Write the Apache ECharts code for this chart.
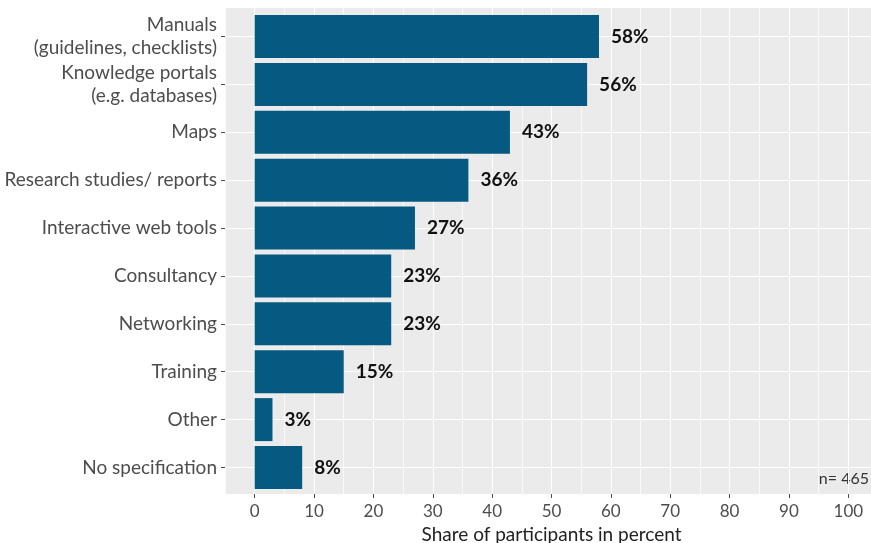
<!DOCTYPE html>
<html>
<head>
<meta charset="utf-8">
<script src="https://cdn.jsdelivr.net/npm/echarts@6/dist/echarts.min.js"></script>
<style>
  html, body { margin: 0; padding: 0; background: #fff; }
  #chart { width: 871px; height: 543px; }
</style>
</head>
<body>
<div id="chart"></div>
<script>
const categories = [
    'Manuals\n(guidelines, checklists)',
    'Knowledge portals\n(e.g. databases)',
    'Maps',
    'Research studies/ reports',
    'Interactive web tools',
    'Consultancy',
    'Networking',
    'Training',
    'Other',
    'No specification'
];
const shares = [58, 56, 43, 36, 27, 23, 23, 15, 3, 8];
const xTicks = [0, 10, 20, 30, 40, 50, 60, 70, 80, 90, 100];
const sampleNote = 'n= 465';

const chart = echarts.init(document.getElementById('chart'));
const font = 'Lato, "Open Sans", sans-serif';

// panel runs past the right edge of the window (ggplot expands -5..105)
const panelLeft = 225;
const panelWidth = 653;

const option = {
    backgroundColor: '#fff',
    animation: false,
    grid: [
        // gray panel with vertical grid lines
        { left: panelLeft, width: panelWidth, top: 8, height: 486, outerBoundsMode: 'none', show: true, backgroundColor: '#ebebeb', borderWidth: 0 },
        // bars: grid spans first to last category centre
        { left: panelLeft, width: panelWidth, top: 36.5, height: 431, outerBoundsMode: 'none' }
    ],
    xAxis: [
        {
            gridIndex: 0, type: 'value', min: -5, max: 105, interval: 5, position: 'top',
            axisLine: { show: false, onZero: false }, axisTick: { show: false }, axisLabel: { show: false },
            splitLine: { show: true, lineStyle: { color: ['rgba(255,255,255,0.7)', '#ffffff'], width: 1.1 } }
        },
        {
            gridIndex: 1, type: 'value', min: -5, max: 105,
            show: false, splitLine: { show: false }
        },
        {
            gridIndex: 0, type: 'value', min: -5, max: 105, position: 'bottom',
            axisLine: { show: false, onZero: false },
            axisTick: { show: true, customValues: xTicks, length: 4, lineStyle: { color: '#4d4d4d' } },
            axisLabel: { customValues: xTicks, color: '#4d4d4d', fontSize: 17, fontFamily: font, margin: 9 },
            splitLine: { show: false },
            name: 'Share of participants in percent',
            nameLocation: 'middle', nameGap: 29,
            nameTextStyle: { color: '#222', fontSize: 19, fontFamily: font }
        }
    ],
    yAxis: [
        { gridIndex: 0, type: 'value', show: false, splitLine: { show: false } },
        {
            gridIndex: 1, type: 'category', data: categories, inverse: true, boundaryGap: false,
            axisLine: { show: false, onZero: false },
            axisTick: { show: true, length: 4, lineStyle: { color: '#4d4d4d' } },
            axisLabel: { color: '#4d4d4d', fontSize: 19, fontFamily: font, margin: 8, lineHeight: 23, align: 'right' },
            splitLine: { show: true, lineStyle: { color: '#ffffff', width: 1.1 } }
        }
    ],
    series: [{
        type: 'bar',
        xAxisIndex: 1, yAxisIndex: 1,
        data: shares,
        barWidth: 43,
        itemStyle: { color: '#065a82' },
        label: {
            show: true, position: 'right', distance: 12,
            formatter: p => p.value + '%',
            color: '#111', fontWeight: 'bold', fontSize: 19, fontFamily: font
        }
    }],
    graphic: [{
        type: 'text', right: 2, top: 471,
        style: { text: sampleNote, fill: '#333', fontSize: 16, fontFamily: font }
    }]
};

chart.setOption(option);
</script>
</body>
</html>
